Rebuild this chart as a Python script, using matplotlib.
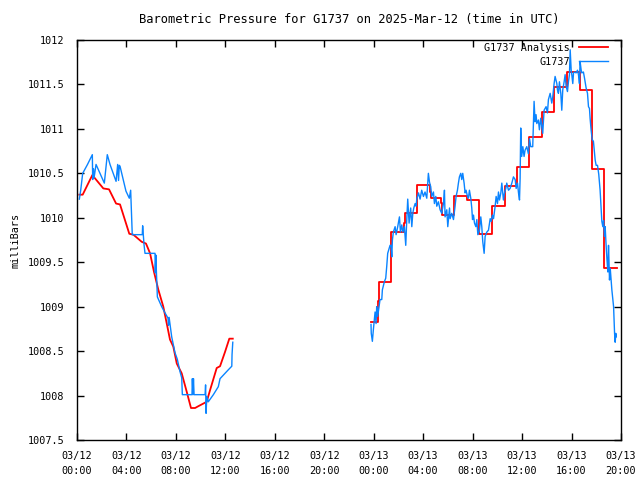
import matplotlib
matplotlib.use("Agg")
import matplotlib.pyplot as plt
from matplotlib.ticker import FuncFormatter

#%% data (hours since 03/12 00:00 UTC, pressure in mb)

# observed, first stretch
obs1_hours = [0.19, 0.30, 0.46, 0.85, 1.24, 1.27, 1.33, 1.38, 1.54, 2.21, 2.45, 2.67,
              3.16, 3.29, 3.36, 3.42, 3.48, 3.96, 4.23, 4.34, 4.47, 5.28, 5.31, 5.42,
              5.50, 6.31, 6.33, 6.38, 6.42, 6.50, 6.85, 7.12, 7.36, 7.40, 7.45, 7.66,
              7.93, 8.11, 8.33, 8.47, 8.52, 9.30, 9.33, 9.38, 9.42, 9.47, 10.36, 10.40,
              10.44, 10.50, 10.62, 11.03, 11.43, 11.57, 12.24, 12.52, 12.54, 12.60]
obs1_mb = [1010.21, 1010.31, 1010.50, 1010.60, 1010.71, 1010.43, 1010.55, 1010.45, 1010.60,
           1010.39, 1010.71, 1010.60, 1010.41, 1010.60, 1010.42, 1010.59, 1010.58, 1010.30,
           1010.22, 1010.31, 1009.81, 1009.81, 1009.91, 1009.70, 1009.60, 1009.60, 1009.38,
           1009.58, 1009.40, 1009.11, 1009.00, 1008.93, 1008.87, 1008.79, 1008.88, 1008.66,
           1008.48, 1008.41, 1008.27, 1008.20, 1008.01, 1008.01, 1008.19, 1008.01, 1008.19,
           1008.01, 1008.01, 1008.12, 1007.80, 1007.99, 1007.93, 1008.01, 1008.10, 1008.19,
           1008.29, 1008.33, 1008.46, 1008.60]

# analysis, first stretch
ana1_hours = [0.19, 0.46, 1.24, 2.13, 2.59, 3.16, 3.48, 4.23, 4.56, 5.23, 5.58, 5.91,
              6.23, 6.58, 6.98, 7.26, 7.52, 7.79, 8.07, 8.47, 8.88, 9.22, 9.55, 9.81,
              10.22, 10.49, 10.76, 11.30, 11.57, 11.97, 12.32, 12.60]
ana1_mb = [1010.26, 1010.26, 1010.48, 1010.33, 1010.32, 1010.16, 1010.15, 1009.82, 1009.81,
           1009.73, 1009.71, 1009.60, 1009.39, 1009.19, 1009.00, 1008.81, 1008.63, 1008.55,
           1008.36, 1008.25, 1008.04, 1007.86, 1007.86, 1007.88, 1007.91, 1007.93, 1008.06,
           1008.31, 1008.33, 1008.49, 1008.64, 1008.64]

# observed, second stretch
obs2_hours = [23.78, 23.80, 23.89, 23.97, 24.11, 24.19, 24.24, 24.32, 24.51, 24.65, 24.70,
              24.86, 24.97, 25.05, 25.13, 25.32, 25.40, 25.46, 25.51, 25.59, 25.73, 25.81,
              25.94, 26.08, 26.16, 26.27, 26.35, 26.48, 26.59, 26.67, 26.75, 26.86, 26.99,
              27.08, 27.16, 27.24, 27.35, 27.43, 27.48, 27.62, 27.75, 27.88, 28.02, 28.15,
              28.29, 28.42, 28.51, 28.61, 28.69, 28.83, 28.91, 29.02, 29.10, 29.23, 29.37,
              29.50, 29.64, 29.72, 29.77, 29.91, 29.99,
              30.13, 30.18, 30.31, 30.45, 30.58, 30.66, 30.77, 30.85, 30.93, 31.04, 31.12,
              31.20, 31.31, 31.39, 31.47, 31.58, 31.66, 31.74, 31.85, 31.93, 31.99, 32.07,
              32.15, 32.26, 32.34, 32.42, 32.55, 32.66, 32.74, 32.82, 32.93, 33.01, 33.15,
              33.28, 33.42, 33.50, 33.60, 33.69, 33.82, 33.90, 34.01, 34.09, 34.17, 34.28,
              34.36, 34.49, 34.58, 34.68, 34.76, 34.90, 35.03, 35.17, 35.30, 35.44, 35.52,
              35.63, 35.71, 35.79,
              35.84, 35.89, 35.97, 36.06, 36.16, 36.24, 36.38, 36.51, 36.60, 36.70, 36.86,
              36.97, 37.05, 37.13, 37.19, 37.32, 37.40, 37.51, 37.67, 37.78, 37.94, 38.05,
              38.13, 38.27, 38.40, 38.48, 38.59, 38.67, 38.81, 38.86, 38.94, 39.02, 39.13,
              39.21, 39.29, 39.40, 39.48, 39.56, 39.67, 39.75, 39.83, 39.89, 39.97, 40.02,
              40.10, 40.16, 40.24, 40.37, 40.48, 40.56, 40.64, 40.69, 40.78, 40.83, 40.96,
              41.05, 41.18, 41.29, 41.37, 41.45, 41.50, 41.58, 41.67, 41.77, 41.91, 41.99,
              42.10, 42.20, 42.31,
              42.37, 42.45, 42.53, 42.59, 42.67, 42.72, 42.78, 42.86, 42.94, 42.99, 43.07,
              43.13, 43.18, 43.26, 43.40, 43.48, 43.53, 43.58, 43.61]
obs2_mb = [1008.80, 1008.70, 1008.61, 1008.74, 1008.94, 1008.81, 1009.00, 1008.89, 1009.08,
           1009.08, 1009.19, 1009.28, 1009.32, 1009.45, 1009.60, 1009.69, 1009.69, 1009.56,
           1009.75, 1009.84, 1009.90, 1009.81, 1009.90, 1010.01, 1009.84, 1009.92, 1009.84,
           1009.90, 1009.69, 1009.97, 1010.21, 1009.94, 1010.11, 1009.90, 1010.05, 1010.11,
           1010.16, 1010.13, 1010.21, 1010.28, 1010.21, 1010.31, 1010.24, 1010.29, 1010.22,
           1010.50, 1010.40, 1010.35, 1010.24, 1010.29, 1010.16, 1010.24, 1010.13, 1010.18,
           1010.09, 1010.05, 1010.16, 1010.31, 1010.01, 1010.09, 1009.90,
           1010.11, 1009.99, 1010.05, 1009.98, 1010.13, 1010.24, 1010.31, 1010.39, 1010.46,
           1010.50, 1010.43, 1010.50, 1010.39, 1010.28, 1010.31, 1010.24, 1010.22, 1010.31,
           1010.22, 1010.11, 1009.98, 1010.03, 1009.94, 1009.90, 1009.98, 1009.81, 1009.86,
           1010.01, 1009.90, 1009.73, 1009.60, 1009.79, 1009.84, 1009.86, 1009.99, 1009.96,
           1010.03, 1009.99, 1010.13, 1010.24, 1010.16, 1010.29, 1010.20, 1010.28, 1010.39,
           1010.20, 1010.28, 1010.33, 1010.39, 1010.31, 1010.33, 1010.39, 1010.46, 1010.43,
           1010.33, 1010.39, 1010.28, 1010.20,
           1010.44, 1011.01, 1010.69, 1010.80, 1010.69, 1010.76, 1010.80, 1010.72, 1010.89,
           1010.80, 1010.80, 1011.31, 1011.08, 1011.16, 1011.06, 1011.10, 1010.99, 1011.12,
           1010.95, 1011.21, 1011.25, 1011.18, 1011.33, 1011.40, 1011.29, 1011.36, 1011.51,
           1011.59, 1011.51, 1011.44, 1011.40, 1011.53, 1011.40, 1011.21, 1011.44, 1011.53,
           1011.61, 1011.48, 1011.42, 1011.53, 1011.61, 1011.89, 1011.66, 1011.61, 1011.51,
           1011.63, 1011.64, 1011.63, 1011.66, 1011.61, 1011.51, 1011.76, 1011.66, 1011.63,
           1011.64, 1011.57, 1011.46, 1011.40, 1011.25, 1011.23, 1011.12, 1010.99, 1010.88,
           1010.86, 1010.65, 1010.59, 1010.59, 1010.49, 1010.31,
           1010.16, 1009.96, 1009.90, 1009.97, 1009.79, 1009.90, 1009.73, 1009.54, 1009.39,
           1009.69, 1009.30, 1009.43, 1009.34, 1009.19, 1009.00, 1008.70, 1008.60, 1008.70,
           1008.66]

# analysis, second stretch (step levels, each holds until the next time)
ana2_hours = [23.79, 24.38, 24.46, 25.40, 26.48, 26.54, 27.48, 28.56, 28.62, 29.45, 29.52,
              30.53, 31.58, 32.52, 33.58, 34.60, 35.57, 36.57, 37.60, 38.62, 39.67, 40.69,
              41.64, 42.64, 43.66]
ana2_mb = [1008.83, 1009.06, 1009.28, 1009.84, 1009.94, 1010.05, 1010.37, 1010.29, 1010.22,
           1010.17, 1010.03, 1010.25, 1010.20, 1009.82, 1010.13, 1010.36, 1010.57, 1010.91,
           1011.19, 1011.47, 1011.64, 1011.44, 1010.55, 1009.44, 1009.44]

tick_hours = [0, 4, 8, 12, 16, 20, 24, 28, 32, 36, 40, 44]
tick_labels = ["03/12\n00:00", "03/12\n04:00", "03/12\n08:00", "03/12\n12:00",
               "03/12\n16:00", "03/12\n20:00", "03/13\n00:00", "03/13\n04:00",
               "03/13\n08:00", "03/13\n12:00", "03/13\n16:00", "03/13\n20:00"]

#%% plotting

plt.rcParams['font.family'] = 'DejaVu Sans Mono'
plt.rcParams['font.size'] = 7.3

red = "#ff0000"
blue = "#0a84ff"

fig = plt.figure(figsize=(6.4, 4.8), dpi=100)
ax = fig.add_axes([77 / 640, 40 / 480, 544 / 640, 400 / 480])

ax.plot(ana1_hours, ana1_mb, color=red, lw=1.3, label="G1737 Analysis")
ax.plot(ana2_hours, ana2_mb, color=red, lw=1.3, drawstyle="steps-post")
ax.plot(obs1_hours, obs1_mb, color=blue, lw=1.0, label="G1737")
ax.plot(obs2_hours, obs2_mb, color=blue, lw=1.0)

ax.set_xlim(0, 44)
ax.set_ylim(1007.5, 1012)
ax.set_xticks(tick_hours)
ax.set_xticklabels(tick_labels, linespacing=1.65)
ax.set_yticks([1007.5 + 0.5 * i for i in range(10)])
ax.yaxis.set_major_formatter(FuncFormatter(lambda v, p: "%g" % v))
ax.tick_params(direction="in", length=5, width=1, top=True, right=True, pad=8)
ax.tick_params(axis="y", pad=9)
for s in ax.spines.values():
    s.set_linewidth(1)

ax.set_title("Barometric Pressure for G1737 on 2025-Mar-12 (time in UTC)", pad=12)
ax.set_ylabel("milliBars", labelpad=5)

leg = ax.legend(loc="upper right", bbox_to_anchor=(0.982, 1.0), frameon=False,
                markerfirst=False, borderaxespad=0.1, borderpad=0.2, handlelength=2.9,
                handletextpad=0.9, labelspacing=0.35)

plt.savefig("out.png", dpi=100)
